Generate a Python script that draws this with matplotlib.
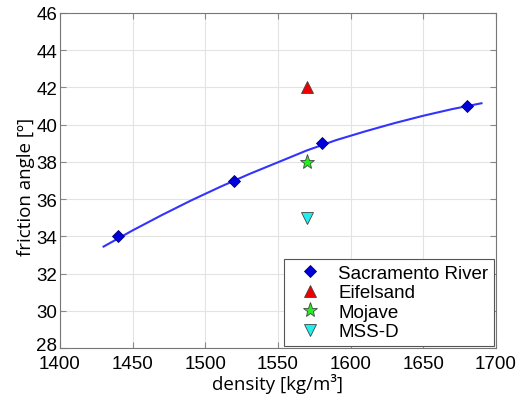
import numpy as np
import matplotlib
matplotlib.use("Agg")
import matplotlib.pyplot as plt
import matplotlib.transforms as mtransforms

# measured points
sac_density = [1440, 1520, 1580, 1680]
sac_angle = [34, 37, 39, 41]
eifel_density = [1570]
eifel_angle = [42]
mojave_density = [1570]
mojave_angle = [38]
mssd_density = [1570]
mssd_angle = [35]

# trend curve
fit_density = [1430, 1450, 1470, 1490, 1510, 1530, 1550, 1570, 1590, 1610, 1630, 1650, 1670, 1690]
fit_angle = [33.45, 34.32, 35.14, 35.92, 36.65, 37.34, 37.98, 38.62, 39.17, 39.64, 40.08, 40.48, 40.84, 41.15]

x_ticks = [1400, 1450, 1500, 1550, 1600, 1650, 1700]
y_ticks = [28, 30, 32, 34, 36, 38, 40, 42, 44, 46]

fig = plt.figure(figsize=(5.19, 4.02), dpi=100)
ax = fig.add_axes([60 / 519, 1 - 349 / 402, 436 / 519, 335 / 402])

ax.plot(fit_density, fit_angle, color="#3333ff", lw=1.5, zorder=2)
ax.plot(sac_density, sac_angle, "D", color="#0000dd", mec="#000066", mew=0.6,
        ms=6.5, ls="none", label="Sacramento River", zorder=3)
ax.plot(eifel_density, eifel_angle, "^", color="#ee0000", mec="#444444", mew=0.6,
        ms=8, ls="none", label="Eifelsand", zorder=3)
ax.plot(mojave_density, mojave_angle, "*", color="#22ee22", mec="#444444", mew=0.6,
        ms=11, ls="none", label="Mojave", zorder=3)
ax.plot(mssd_density, mssd_angle, "v", color="#22eeee", mec="#444444", mew=0.6,
        ms=8, ls="none", label="MSS-D", zorder=3)

ax.set_xlim(1400, 1700)
ax.set_ylim(28, 46)
ax.set_xticks(x_ticks)
ax.set_yticks(y_ticks)
ax.tick_params(direction="in", top=True, right=True, length=4, color="#888888",
               labelsize=13.5)
ax.tick_params(axis="x", pad=5)
ax.tick_params(axis="y", pad=2)
for lbl in ax.get_xticklabels() + ax.get_yticklabels():
    lbl.set_family("Liberation Sans")
ax.grid(True, color="#e3e3e3", lw=0.8)
for s in ax.spines.values():
    s.set_color("#777777")

# lift the bottom y label a little so it clears "1400"
lbl28 = ax.get_yticklabels()[0]
lbl28.set_transform(lbl28.get_transform() +
                    mtransforms.ScaledTranslation(0, 3 / 72, fig.dpi_scale_trans))

ax.set_xlabel("density [kg/m³]", family="Open Sans", fontsize=13.5)
ax.set_ylabel("friction angle [º]", family="Open Sans", fontsize=13.5)
ax.xaxis.label.set_verticalalignment("center")
ax.xaxis.set_label_coords(0.5, -(384 - 349) / 335)
ax.yaxis.set_label_coords(-(60 - 26) / 436, (349 - 187) / 335)
ax.yaxis.label.set_verticalalignment("center")

leg = ax.legend(loc="lower right", prop={"family": "Liberation Sans", "size": 13.5},
                fancybox=False, edgecolor="#555555", framealpha=1,
                handletextpad=0.4, labelspacing=0.12, borderaxespad=0.12,
                handlelength=2.2, borderpad=0.3)
leg.get_frame().set_linewidth(0.8)

fig.savefig("out.png", dpi=100)
